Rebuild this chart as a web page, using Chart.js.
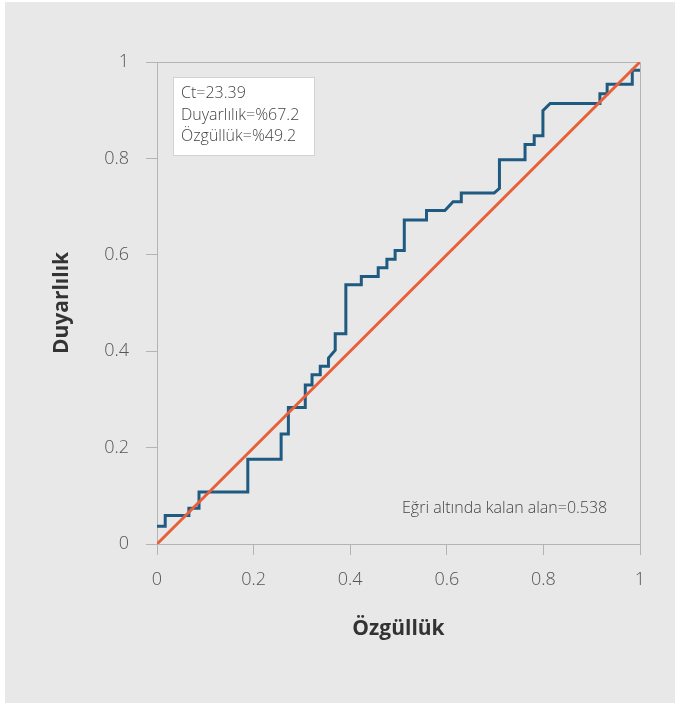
<!DOCTYPE html>
<html>
<head>
<meta charset="utf-8">
<script src="https://cdn.jsdelivr.net/npm/chart.js@4"></script>
<style>
  body { margin: 0; background: #fff; }
  #panel { position: absolute; left: 5px; top: 2px; width: 670px; height: 701px; background: #e8e8e8; }
  #roc { display: block; }
</style>
</head>
<body>
<div id="panel"><canvas id="roc" width="670" height="701"></canvas></div>
<script>
// ROC curve points
const rocX = [0, 0.017, 0.017, 0.066, 0.066, 0.087, 0.087, 0.188, 0.188, 0.257, 0.257, 0.272, 0.272,
  0.307, 0.307, 0.321, 0.321, 0.338, 0.338, 0.355, 0.355, 0.369, 0.369, 0.391, 0.391, 0.423, 0.423,
  0.458, 0.458, 0.476, 0.476, 0.493, 0.493, 0.512, 0.512, 0.558, 0.558, 0.596, 0.613, 0.630, 0.630,
  0.698, 0.709, 0.709, 0.762, 0.762, 0.781, 0.781, 0.799, 0.799, 0.814, 0.917, 0.917, 0.932, 0.932,
  0.984, 0.984, 1];
const rocY = [0.037, 0.037, 0.059, 0.059, 0.074, 0.074, 0.108, 0.108, 0.176, 0.176, 0.228, 0.228, 0.283,
  0.283, 0.330, 0.330, 0.351, 0.351, 0.369, 0.369, 0.386, 0.402, 0.436, 0.436, 0.538, 0.538, 0.555,
  0.555, 0.573, 0.573, 0.591, 0.591, 0.609, 0.609, 0.672, 0.672, 0.692, 0.692, 0.710, 0.710, 0.728,
  0.728, 0.738, 0.797, 0.797, 0.829, 0.829, 0.847, 0.847, 0.899, 0.914, 0.914, 0.934, 0.934, 0.954,
  0.954, 0.983, 0.983];

// reference diagonal
const refX = [0, 1];
const refY = [0, 1];

const tickValues = [0, 0.2, 0.4, 0.6, 0.8, 1];
const tickLabels = ['0', '0.2', '0.4', '0.6', '0.8', '1'];

const infoLines = ['Ct=23.39', 'Duyarlılık=%67.2', 'Özgüllük=%49.2'];
const aucText = 'Eğri altında kalan alan=0.538';

const FONT = "'Open Sans', 'Noto Sans', sans-serif";
const GRID = '#b4b4b4';

const toPoints = (xs, ys) => xs.map((x, i) => ({ x: x, y: ys[i] }));

const frameAndNotes = {
  id: 'frameAndNotes',
  beforeDatasetsDraw(chart) {
    const { ctx, chartArea: a } = chart;
    ctx.save();
    ctx.strokeStyle = GRID;
    ctx.lineWidth = 1;
    ctx.beginPath();
    ctx.moveTo(a.left, a.top + 0.5);
    ctx.lineTo(a.right + 0.5, a.top + 0.5);
    ctx.lineTo(a.right + 0.5, a.bottom);
    ctx.stroke();
    ctx.restore();
  },
  afterDatasetsDraw(chart) {
    const { ctx, chartArea: a } = chart;
    ctx.save();
    // info box
    ctx.fillStyle = '#ffffff';
    ctx.fillRect(a.left + 16, a.top + 15, 141, 78);
    ctx.strokeStyle = '#d2d2d2';
    ctx.lineWidth = 1;
    ctx.strokeRect(a.left + 16.5, a.top + 15.5, 141, 78);
    ctx.fillStyle = '#444';
    ctx.font = '300 16px ' + FONT;
    ctx.textBaseline = 'middle';
    ctx.textAlign = 'left';
    infoLines.forEach((t, i) => ctx.fillText(t, a.left + 24, a.top + 31.5 + i * 21.7));
    // area under curve note
    ctx.fillText(aucText, a.left + 245, a.bottom - 36);
    ctx.restore();
  }
};

new Chart(document.getElementById('roc').getContext('2d'), {
  type: 'scatter',
  data: {
    datasets: [
      {
        data: toPoints(refX, refY),
        showLine: true,
        borderColor: '#e8603a',
        borderWidth: 3,
        pointRadius: 0,
        tension: 0
      },
      {
        data: toPoints(rocX, rocY),
        showLine: true,
        borderColor: '#1f5a80',
        borderWidth: 3,
        pointRadius: 0,
        tension: 0
      }
    ]
  },
  options: {
    responsive: false,
    animation: false,
    events: [],
    layout: { padding: { left: 30, top: 60, right: 35, bottom: 61 } },
    plugins: {
      legend: { display: false },
      tooltip: { enabled: false }
    },
    scales: {
      x: {
        type: 'linear',
        min: 0,
        max: 1,
        afterBuildTicks: s => { s.ticks = tickValues.map(v => ({ value: v })); },
        afterFit: s => { s.height = 98; },
        grid: { drawOnChartArea: false, tickLength: 11, color: GRID },
        border: { color: GRID },
        ticks: {
          padding: 14,
          color: '#555',
          font: { family: FONT, size: 18, weight: '300' },
          callback: (v, i) => tickLabels[i]
        },
        title: {
          display: true,
          text: 'Özgüllük',
          color: '#333',
          padding: { top: 0, bottom: 0 },
          font: { family: FONT, size: 21, weight: 'bold' }
        }
      },
      y: {
        type: 'linear',
        min: 0,
        max: 1,
        afterBuildTicks: s => { s.ticks = tickValues.map(v => ({ value: v })); },
        afterFit: s => { s.width = 122; },
        grid: { drawOnChartArea: false, tickLength: 11, color: GRID },
        border: { color: GRID },
        ticks: {
          padding: 17,
          color: '#555',
          font: { family: FONT, size: 18, weight: '300' },
          callback: (v, i) => tickLabels[i]
        },
        title: {
          display: true,
          text: 'Duyarlılık',
          color: '#333',
          padding: { top: 14, bottom: 0 },
          font: { family: FONT, size: 21, weight: 'bold' }
        }
      }
    }
  },
  plugins: [frameAndNotes]
});
</script>
</body>
</html>
